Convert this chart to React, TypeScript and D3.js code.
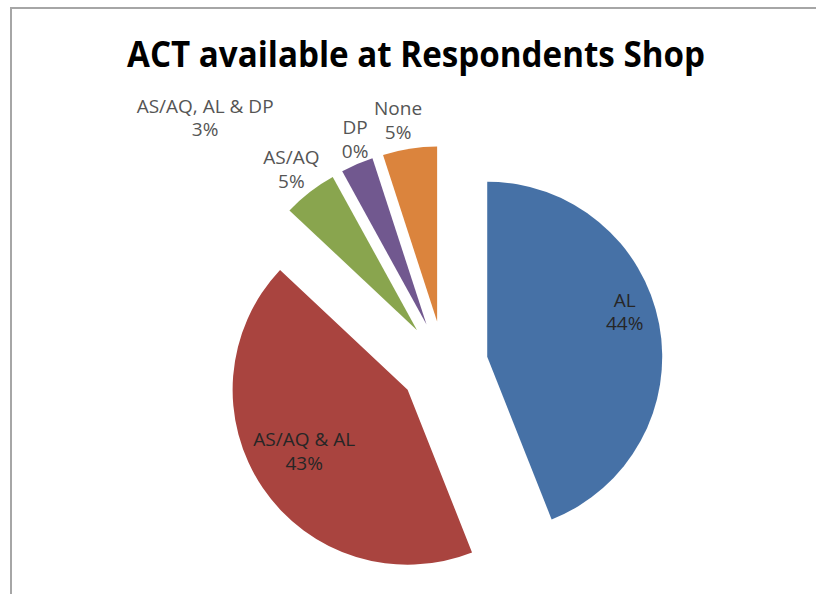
import * as d3 from 'd3';

// Chart data
const categories = ['AL', 'AS/AQ & AL', 'AS/AQ', 'AS/AQ, AL & DP', 'DP', 'None'];
const percents = [44, 43, 5, 3, 0, 5];
const colors = ['#4671a6', '#a9443f', '#89a54e', '#71588f', '#4bacc6', '#db843d'];

// Which labels sit inside the slice, and manual nudges (like dragged Excel labels)
const insideLabels = ['AL', 'AS/AQ & AL'];
const labelNudge: Record<string, [number, number]> = {
  AL: [0, -20],
  'AS/AQ & AL': [0, -10],
  'AS/AQ, AL & DP': [-140, -20],
  DP: [-12, 10],
  None: [-7, 0],
};

const W = 816;
const H = 594;
const cx = 444;
const cy = 365;
const radius = 175;
const explode = 44;

const App = () => {
  const pie = d3
    .pie<number>()
    .sort(null)
    .startAngle(0)
    .endAngle(2 * Math.PI)
    .value((d) => d);

  const arcs = pie(percents);
  const arc = d3.arc<d3.PieArcDatum<number>>().innerRadius(0).outerRadius(radius);

  return (
    <svg
      width={W}
      height={H}
      style={{ position: 'absolute', left: 0, top: 0, background: '#fff' }}
    >
      {/* chart frame */}
      <path d={`M11,${H} L11,8 L${W},8`} fill="none" stroke="#a6a6a6" strokeWidth={2} />

      <text
        x={416}
        y={67}
        textAnchor="middle"
        fontFamily="'Open Sans', sans-serif"
        fontWeight="bold"
        fontSize={35}
        textLength={578}
        lengthAdjust="spacingAndGlyphs"
        fill="#000"
      >
        ACT available at Respondents Shop
      </text>

      {arcs.map((a, i) => {
        const mid = (a.startAngle + a.endAngle) / 2;
        const ox = cx + explode * Math.sin(mid);
        const oy = cy - explode * Math.cos(mid);
        const name = categories[i];
        const inside = insideLabels.includes(name);
        const lr = inside ? (i === 0 ? 140 : 125) : 205;
        const [nx, ny] = labelNudge[name] || [0, 0];
        const lx = ox + lr * Math.sin(mid) + nx;
        const ly = oy - lr * Math.cos(mid) + ny;
        return (
          <g key={name}>
            {a.value > 0 && (
              <path d={arc(a) || ''} transform={`translate(${ox},${oy})`} fill={colors[i]} />
            )}
            <text
              x={lx}
              y={ly}
              textAnchor="middle"
              fontFamily="'Open Sans', sans-serif"
              fontSize={19}
              fill={inside ? '#262626' : '#555'}
            >
              <tspan x={lx} dy="-0.2em">{name}</tspan>
              <tspan x={lx} dy="1.25em">{percents[i]}%</tspan>
            </text>
          </g>
        );
      })}
    </svg>
  );
};

export default App;
